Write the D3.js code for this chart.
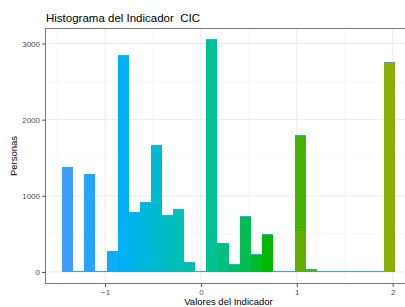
<!DOCTYPE html>
<html lang="es">
<head>
<meta charset="UTF-8">
<title>Histograma del Indicador CIC</title>
<script src="https://cdn.jsdelivr.net/npm/d3@7/dist/d3.min.js"></script>
<style>
  * { margin: 0; padding: 0; }
  body { background: #fff; overflow: hidden; }
  svg { display: block; font-family: 'Liberation Sans', Arial, sans-serif; }
  .grid-major { stroke: #ebebeb; stroke-width: 1; }
  .grid-minor { stroke: #f4f4f4; stroke-width: 0.6; }
  .tick-label { fill: #4d4d4d; font-size: 8px; }
</style>
</head>
<body>
<div id="chart"></div>
<script>
// ─── Data ────────────────────────────────────────────────────────────────────
// 30 bins, first centred on the minimum, last on the maximum
const binMin   = -1.39;
const binMax   = 1.965;
const counts   = [1370, 0, 1270, 0, 260, 2830, 780, 905, 1660, 740,
                  815, 120, 0, 3045, 370, 95, 720, 225, 490, 0,
                  0, 1780, 30, 0, 0, 0, 0, 0, 0, 2750];
// part of bin 21 that belongs to a higher-valued group (stacked under it)
const stackedBin   = 21;
const stackedLower = 533;
const stackedLowerValue = 1.3;

const xTicks      = [-1, 0, 1, 2];
const xMinorTicks = [-1.5, -0.5, 0.5, 1.5];
const yTicks      = [0, 1000, 2000, 3000];
const yMinorTicks = [500, 1500, 2500];

const title  = 'Histograma del Indicador\u00a0 CIC';
const xTitle = 'Valores del Indicador';
const yTitle = 'Personas';

// ─── Layout ──────────────────────────────────────────────────────────────────
const W = 405, H = 307;
const panel = { left: 45.5, top: 28.5, right: 411.5, bottom: 283.5 };

const binW = (binMax - binMin) / (counts.length - 1);
const bins = counts.map((c, i) => {
  const mid = binMin + i * binW;
  return { i, x0: mid - binW / 2, x1: mid + binW / 2, mid, count: c };
});

const xLo = bins[0].x0, xHi = bins[bins.length - 1].x1;
const xPad = (xHi - xLo) * 0.05;
const x = d3.scaleLinear()
  .domain([xLo - xPad, xHi + xPad])
  .range([panel.left, panel.right]);

const yMax = d3.max(counts);
const y = d3.scaleLinear()
  .domain([-yMax * 0.05, yMax * 1.05])
  .range([panel.bottom, panel.top]);

// fill follows the value, hue running blue → green → olive
const fill = d3.scaleLinear()
  .domain([-1.39, -0.81, -0.23, 0.11, 0.46, 0.69, 1.04, 1.3, 1.97])
  .range(['#3f9dff', '#00b1f5', '#00c0b5', '#00c194', '#00bd50', '#00b900', '#44b400', '#64b000', '#8cae00'])
  .interpolate(d3.interpolateRgb)
  .clamp(true);
const edgeBlue = '#3d9bff';

// ─── Draw ────────────────────────────────────────────────────────────────────
const svg = d3.select('#chart').append('svg')
  .attr('width', W)
  .attr('height', H);

svg.append('clipPath').attr('id', 'clip')
  .append('rect')
  .attr('x', panel.left).attr('y', panel.top)
  .attr('width', panel.right - panel.left)
  .attr('height', panel.bottom - panel.top);

const g = svg.append('g').attr('clip-path', 'url(#clip)');

// grid
g.selectAll('.gx-minor').data(xMinorTicks).enter().append('line')
  .attr('class', 'grid-minor')
  .attr('x1', d => x(d)).attr('x2', d => x(d))
  .attr('y1', panel.top).attr('y2', panel.bottom);
g.selectAll('.gy-minor').data(yMinorTicks).enter().append('line')
  .attr('class', 'grid-minor')
  .attr('y1', d => y(d)).attr('y2', d => y(d))
  .attr('x1', panel.left).attr('x2', panel.right);
g.selectAll('.gx-major').data(xTicks).enter().append('line')
  .attr('class', 'grid-major')
  .attr('x1', d => x(d)).attr('x2', d => x(d))
  .attr('y1', panel.top).attr('y2', panel.bottom);
g.selectAll('.gy-major').data(yTicks).enter().append('line')
  .attr('class', 'grid-major')
  .attr('y1', d => y(d)).attr('y2', d => y(d))
  .attr('x1', panel.left).attr('x2', panel.right);

// bars
g.selectAll('.bar').data(bins.filter(d => d.count > 0)).enter().append('rect')
  .attr('class', 'bar')
  .attr('x', d => x(d.x0))
  .attr('width', d => x(d.x1) - x(d.x0))
  .attr('y', d => y(d.count))
  .attr('height', d => y(0) - y(d.count))
  .attr('fill', d => fill(d.mid))
  .attr('shape-rendering', 'crispEdges');

// lower stacked group in bin 21
const sb = bins[stackedBin];
g.append('rect')
  .attr('x', x(sb.x0))
  .attr('width', x(sb.x1) - x(sb.x0))
  .attr('y', y(stackedLower))
  .attr('height', y(0) - y(stackedLower))
  .attr('fill', fill(stackedLowerValue))
  .attr('shape-rendering', 'crispEdges');

// zero-height blue group drawn on top of every stack
g.selectAll('.edge').data(bins).enter().append('rect')
  .attr('class', 'edge')
  .attr('x', d => x(d.x0))
  .attr('width', d => x(d.x1) - x(d.x0))
  .attr('y', d => Math.round(y(d.count)) - 1)
  .attr('height', 1)
  .attr('fill', edgeBlue)
  .attr('shape-rendering', 'crispEdges');

// panel border
svg.append('rect')
  .attr('x', panel.left).attr('y', panel.top)
  .attr('width', panel.right - panel.left)
  .attr('height', panel.bottom - panel.top)
  .attr('fill', 'none')
  .attr('stroke', '#7a7a7a')
  .attr('stroke-width', 1);

// axes
const xAxis = svg.append('g')
  .attr('transform', `translate(0,${panel.bottom})`)
  .call(d3.axisBottom(x).tickValues(xTicks).tickSize(3.5).tickPadding(2)
    .tickFormat(d => d < 0 ? '\u2212' + Math.abs(d) : d));
const yAxis = svg.append('g')
  .attr('transform', `translate(${panel.left},0)`)
  .call(d3.axisLeft(y).tickValues(yTicks).tickSize(3.5).tickPadding(2)
    .tickFormat(d3.format('d')));

[xAxis, yAxis].forEach(a => {
  a.select('.domain').remove();
  a.selectAll('.tick line').attr('stroke', '#555');
  a.selectAll('.tick text').attr('class', 'tick-label').attr('fill', '#4d4d4d')
    .style('font-family', "'Liberation Sans', Arial, sans-serif");
});

// titles
svg.append('text')
  .attr('x', 46).attr('y', 22)
  .attr('font-size', 11.5)
  .attr('fill', '#000')
  .text(title);

svg.append('text')
  .attr('x', (panel.left + panel.right) / 2)
  .attr('y', 305)
  .attr('text-anchor', 'middle')
  .attr('font-size', 9.5)
  .attr('fill', '#000')
  .text(xTitle);

svg.append('text')
  .attr('transform', `translate(17,${(panel.top + panel.bottom) / 2}) rotate(-90)`)
  .attr('text-anchor', 'middle')
  .attr('font-size', 9.5)
  .attr('fill', '#000')
  .text(yTitle);
</script>
</body>
</html>
